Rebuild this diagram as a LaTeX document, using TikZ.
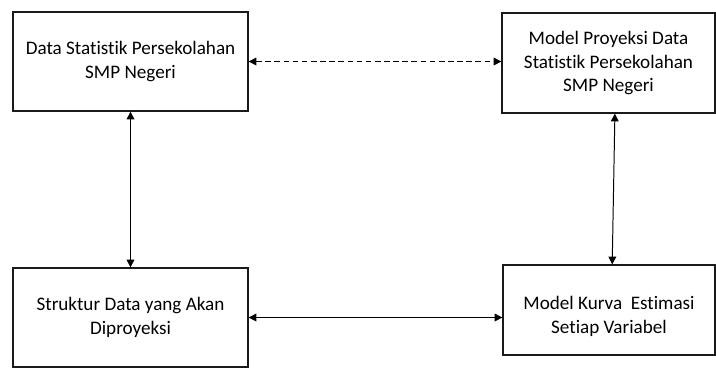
\documentclass[tikz,border=0pt]{standalone}
\usepackage{fontspec}
\setmainfont{Carlito}[Ligatures=NoCommon]
\usetikzlibrary{arrows.meta, positioning}
\definecolor{bxline}{HTML}{1A1A1A}

\begin{document}
\begin{tikzpicture}[
  every node/.style={font=\fontsize{13.6}{16.6}\selectfont},
  blok/.style={rectangle, draw=bxline, line width=0.9pt, align=center, inner sep=0pt},
  link/.style={line width=0.7pt, {Triangle[length=5.5pt,width=5.5pt]}-{Triangle[length=5.5pt,width=5.5pt]}},
]
\useasboundingbox (0,0) rectangle (17.9,-9.225);
\node[blok, minimum width=5.875cm, minimum height=2.475cm] (dsp) at (3.2625,-1.5375) {Data Statistik Persekolahan\\SMP Negeri};
\node[blok, minimum width=5.325cm, minimum height=2.5cm] (mpd) at (15.2125,-1.575) {Model Proyeksi Data\\Statistik Persekolahan\\SMP Negeri};
\node[blok, minimum width=5.875cm, minimum height=2.475cm] (sdp) at (3.2625,-7.9375) {Struktur Data yang Akan\\Diproyeksi};
\node[blok, minimum width=5.3cm, minimum height=2.25cm] (mke) at (15.225,-7.75) {\rule{0pt}{0.65cm}Model Kurva\ \ Estimasi\\Setiap Variabel};

% Connectors
\draw[link, dash pattern=on 4pt off 2.5pt] (dsp.east) -- (dsp.east -| mpd.west);
\draw[link] (dsp) -- (sdp);
\draw[link] ([xshift=0.16cm]mpd.south) -- ([xshift=0.08cm]mke.north);
\draw[link] (sdp.east) -- (sdp.east -| mke.west);
\end{tikzpicture}
\end{document}
